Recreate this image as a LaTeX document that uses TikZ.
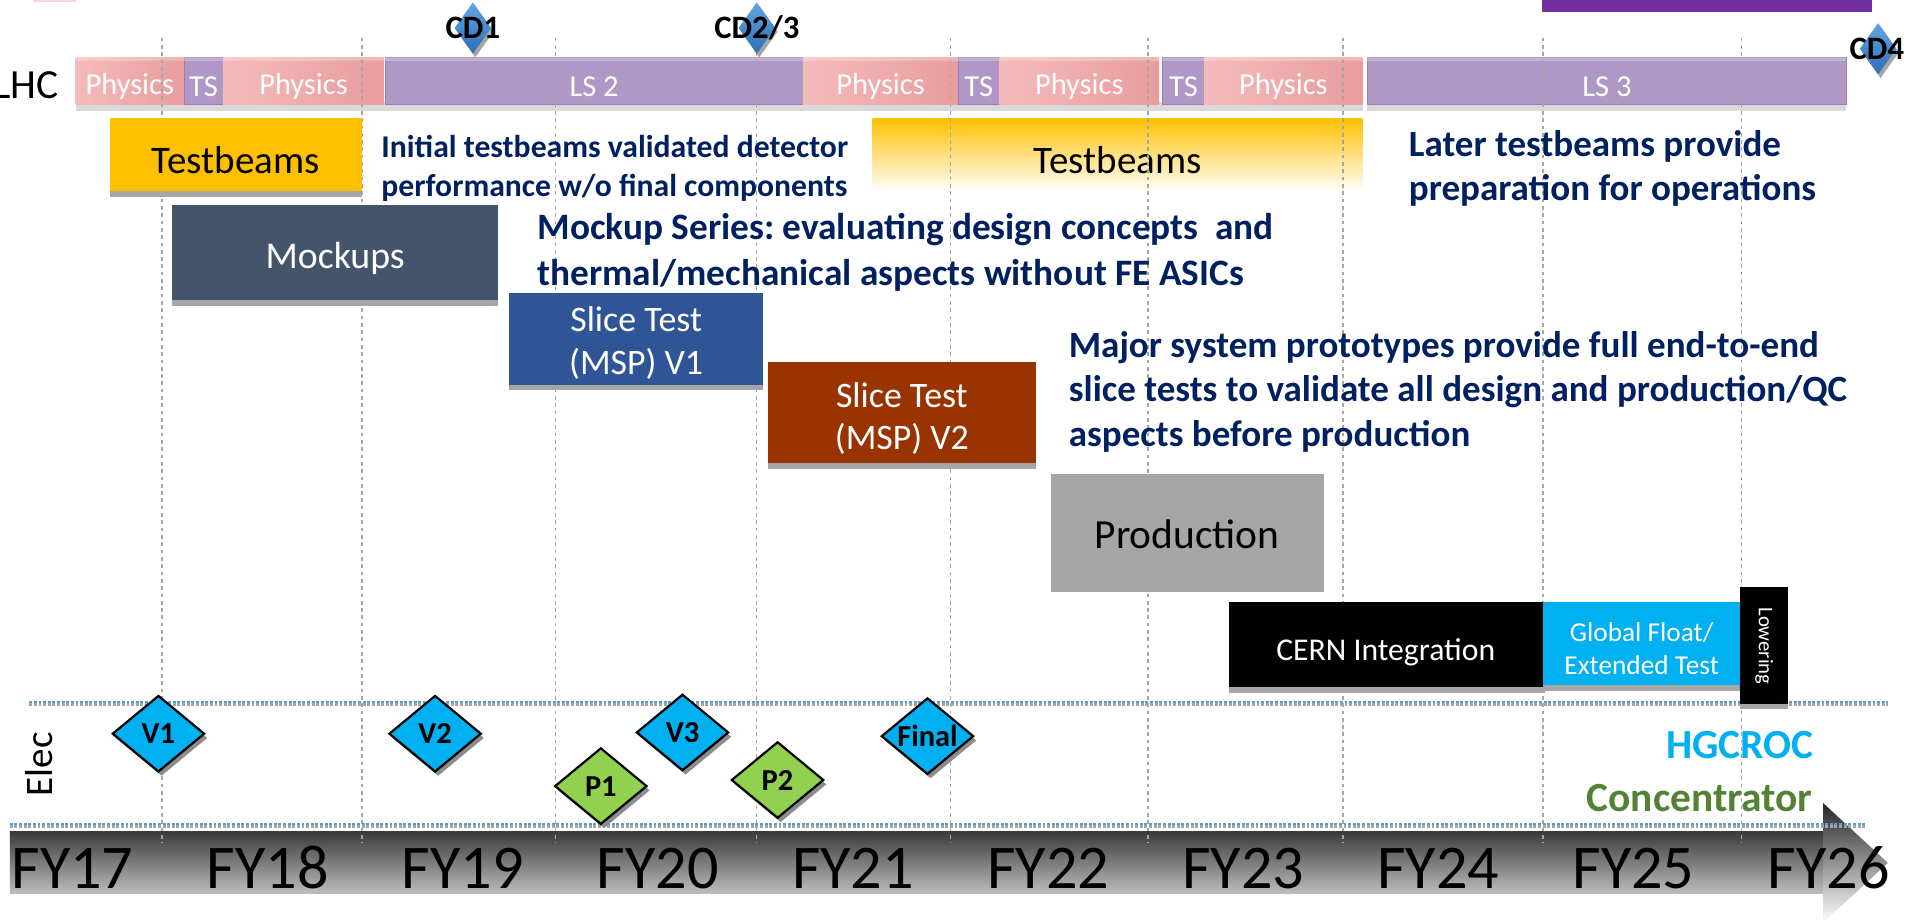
\documentclass[tikz,border=0pt]{standalone}
\usepackage{fontspec}
\setmainfont{Carlito}
\frenchspacing
\usetikzlibrary{shapes.geometric}
\definecolor{physL}{HTML}{F4BBBC}
\definecolor{physR}{HTML}{E99C9E}
\definecolor{lspurple}{HTML}{B098C6}
\definecolor{lsborder}{HTML}{9A7DB5}
\definecolor{shadowgray}{HTML}{A6A6A6}
\definecolor{barshadow}{HTML}{D9D9D9}
\definecolor{navy}{HTML}{002060}
\definecolor{hgc}{HTML}{00B0F0}
\definecolor{pgreen}{HTML}{92D050}
\definecolor{concgreen}{HTML}{548235}
\definecolor{mockcol}{HTML}{44546A}
\definecolor{stonecol}{HTML}{2F5597}
\definecolor{sttwocol}{HTML}{993300}
\definecolor{prodcol}{HTML}{A6A6A6}
\definecolor{gridgray}{HTML}{A6A6A6}
\definecolor{dotblue}{HTML}{5B9BD5}
\definecolor{dotgray}{HTML}{A5A5A5}
\definecolor{cdtop}{HTML}{62A4E2}
\definecolor{cdbot}{HTML}{2E6FB5}
\definecolor{tbyellow}{HTML}{FFC000}
\definecolor{topviolet}{HTML}{7030A0}
\definecolor{arrowtop}{HTML}{3A3A3A}
\definecolor{arrowbot}{HTML}{BDBDBD}
% name, x1, y1, x2, y2, box style, text style, text
\newcommand\tlbox[8]{\node[#6, minimum width={(#4-(#2))*0.5pt}, minimum height={(#5-(#3))*0.5pt}] (#1) at ({(#2+#4)/2},{(#3+#5)/2}) {};
\node[#7] (#1t) at (#1.center) {#8};}
\begin{document}
\begin{tikzpicture}[x=0.5pt,y=-0.5pt,
  every node/.style={inner sep=0pt, outer sep=0pt},
  segtxt/.style={text=white, font=\fontsize{12.5pt}{15pt}\selectfont, yshift=-2.3pt},
  phys/.style={left color=physL, right color=physR},
  lss/.style={fill=lspurple, draw=lsborder, line width=0.3pt},
  blk/.style={align=center},
  shad/.style={fill=shadowgray},
  gridln/.style={draw=gridgray, line width=0.5pt, dash pattern=on 1.5pt off 1.5pt},
  msd/.style={diamond, shape aspect=1.2, draw=black, line width=0.9pt, minimum width=37.5pt, minimum height=31pt, font=\bfseries\fontsize{12.5pt}{15pt}\selectfont},
  vmile/.style={msd, fill=hgc},
  pmile/.style={msd, fill=pgreen},
  dshad/.style={diamond, fill=black!45, minimum width=37.5pt, minimum height=31pt},
  cdd/.style={diamond, top color=cdtop, bottom color=cdbot, minimum width=15pt, minimum height=21pt},
  cdshad/.style={diamond, fill=black!35, minimum width=15pt, minimum height=21pt},
  cdlab/.style={font=\bfseries\fontsize{13.4pt}{15pt}\selectfont},
  notetxt/.style={align=left, anchor=west, text=navy},
  fy/.style={anchor=base, font=\fontsize{25.5pt}{30pt}\selectfont},
  eband/.style={line width=1pt, dash pattern=on 1.2pt off 0.7pt},
]
\useasboundingbox (0,0) rectangle (1568,757);

% top remnants
\fill[physL!60] (27,0) rectangle (62,1.5);
\fill[topviolet] (1265,0) rectangle (1536,9.6);

% FY arrow
\shade[top color=arrowtop, bottom color=arrowbot] (8,682) rectangle (1497,733);
\shade[top color=black!85, bottom color=white] (1496,659) -- (1549,708) -- (1496,757) -- cycle;

% LHC bar
\fill[barshadow] (62,84) rectangle (1118,91);
\fill[barshadow] (1122,84) rectangle (1515,91);
\tlbox{p1}{62}{47}{151}{86}{phys}{segtxt}{Physics}
\tlbox{ts1}{151}{47}{183}{86}{lss}{segtxt}{TS}
\tlbox{p2}{183}{47}{315}{86}{phys}{segtxt}{Physics}
\tlbox{ls2}{316}{47}{659}{86}{lss}{segtxt}{LS 2}
\tlbox{p3}{659}{47}{786}{86}{phys}{segtxt}{Physics}
\tlbox{ts2}{786}{47}{820}{86}{lss}{segtxt}{TS}
\tlbox{p4}{820}{47}{951}{86}{phys}{segtxt}{Physics}
\tlbox{ts3}{954}{47}{988}{86}{lss}{segtxt}{TS}
\tlbox{p5}{988}{47}{1118}{86}{phys}{segtxt}{Physics}
\tlbox{ls3}{1122}{47}{1515}{86}{lss}{segtxt}{LS 3}
\fill[white, opacity=0.25] (62,47) rectangle (1118,50);
\fill[white, opacity=0.25] (1122,47) rectangle (1515,50);

% Testbeams 2 (gradient)
\tlbox{tbtwo}{716}{97}{1118}{157}{top color=tbyellow, bottom color=white}{font=\fontsize{16pt}{19pt}\selectfont, yshift=-2pt}{Testbeams}

% grid lines
\foreach \gx in {133,297,456,621,780,942,1102,1266,1429}
  \draw[gridln] (\gx,31) -- (\gx,692);

% elec band lines
\draw[eband, dotblue] (24,576) -- (1549,576);
\draw[eband, dotgray] (24,578) -- (1549,578);
\draw[eband, dotblue] (8,676) -- (1531,676);
\draw[eband, dotgray] (8,678) -- (1531,678);

% boxes
\fill[shad] (90,154) rectangle (297,162);
\tlbox{tbone}{90}{97}{297}{157}{fill=tbyellow}{font=\fontsize{16pt}{19pt}\selectfont, yshift=-2pt}{Testbeams}
\fill[shad] (141,243) rectangle (409,251);
\tlbox{mock}{141}{168}{409}{246}{fill=mockcol}{text=white, font=\fontsize{15.5pt}{19pt}\selectfont, yshift=-2.5pt}{Mockups}
\fill[shad] (418,313) rectangle (626,320);
\tlbox{stone}{418}{240}{626}{316}{fill=stonecol}{blk, text=white, font=\fontsize{14.7pt}{17.5pt}\selectfont, yshift=-1.8pt}{Slice Test\\(MSP) V1}
\fill[shad] (630,377) rectangle (850,385);
\tlbox{sttwo}{630}{297}{850}{380}{fill=sttwocol}{blk, text=white, font=\fontsize{14.7pt}{17.5pt}\selectfont, yshift=-2.5pt}{Slice Test\\(MSP) V2}
\tlbox{prod}{862}{389}{1086}{486}{fill=prodcol}{font=\fontsize{17pt}{20pt}\selectfont, yshift=-0.5pt}{Production}
\fill[shad] (1008,561) rectangle (1268,569);
\fill[shad] (1266,559) rectangle (1428,567);
\tlbox{cern}{1008}{494}{1266}{564}{fill=black}{text=white, font=\fontsize{13pt}{16pt}\selectfont, yshift=-3pt}{CERN Integration}
\tlbox{gft}{1266}{494}{1428}{562}{fill=hgc}{blk, text=white, font=\fontsize{11.2pt}{13.5pt}\selectfont, yshift=-2pt}{Global Float/\\Extended Test}
\fill[shad] (1428,575) rectangle (1467,582);
\node[rotate=-90, fill=black, text=white, minimum width=48pt, minimum height=19.5pt, font=\fontsize{8.5pt}{10pt}\selectfont] (low) at (1447.5,530) {Lowering};

% CD milestones
\node[cdshad] (cdones) at (390,26) {};
\node[cdd] (cdone) at (388,23) {};
\node[cdlab] (cdonel) at (388,23) {CD1};
\node[cdshad] (cdtwos) at (623,26) {};
\node[cdd] (cdtwo) at (621,23) {};
\node[cdlab] (cdtwol) at (621,23) {CD2/3};
\node[cdshad] (cdfours) at (1543,43) {};
\node[cdd] (cdfour) at (1541,40) {};
\node[cdlab] (cdfourl) at (1540,40) {CD4};

% electronics milestones
\foreach \nm/\mx/\my in {a/130/602, b/357/602, c/560/601, d/761/604, e/493/645, f/638/640}
  \node[dshad] (sh\nm) at (\mx+2.5,\my+3.5) {};
\node[vmile] (vone) at (130,602) {V1};
\node[vmile] (vtwo) at (357,602) {V2};
\node[vmile] (vthree) at (560,601) {V3};
\node[vmile] (final) at (761,604) {Final};
\node[pmile] (pone) at (493,645) {P1};
\node[pmile] (ptwo) at (638,640) {P2};

% labels
\node[anchor=east, font=\fontsize{17pt}{20pt}\selectfont] (lhc) at (48,70) {LHC};
\node[rotate=90, font=\fontsize{16pt}{19pt}\selectfont] (elec) at (32,627) {Elec};
\node[anchor=east, text=hgc, font=\bfseries\fontsize{17pt}{20pt}\selectfont] (hgcroc) at (1488,611) {HGCROC};
\node[anchor=east, text=concgreen, font=\bfseries\fontsize{17pt}{20pt}\selectfont] (conc) at (1487,655) {Concentrator};

\node[notetxt, font=\bfseries\fontsize{13pt}{16pt}\selectfont] (note1) at (313,138) {Initial testbeams validated detector\\performance w/o final components};
\node[notetxt, font=\bfseries\fontsize{15.2pt}{18pt}\selectfont] (note2) at (1156,138) {Later testbeams provide\\preparation for operations};
\node[notetxt, font=\bfseries\fontsize{15.3pt}{18.5pt}\selectfont] (note3) at (441,207) {Mockup Series: evaluating design concepts\ \ and\\thermal/mechanical aspects without FE ASICs};
\node[notetxt, font=\bfseries\fontsize{15.2pt}{18.25pt}\selectfont] (note4) at (877,321.5) {Major system prototypes provide full end-to-end\\slice tests to validate all design and production/QC\\aspects before production};

% FY labels
\foreach \i/\lab in {0/FY17,1/FY18,2/FY19,3/FY20,4/FY21,5/FY22,6/FY23,7/FY24,8/FY25,9/FY26}
  \node[fy] (fy\i) at (59.5+160.1*\i,729) {\lab};
\end{tikzpicture}
\end{document}
